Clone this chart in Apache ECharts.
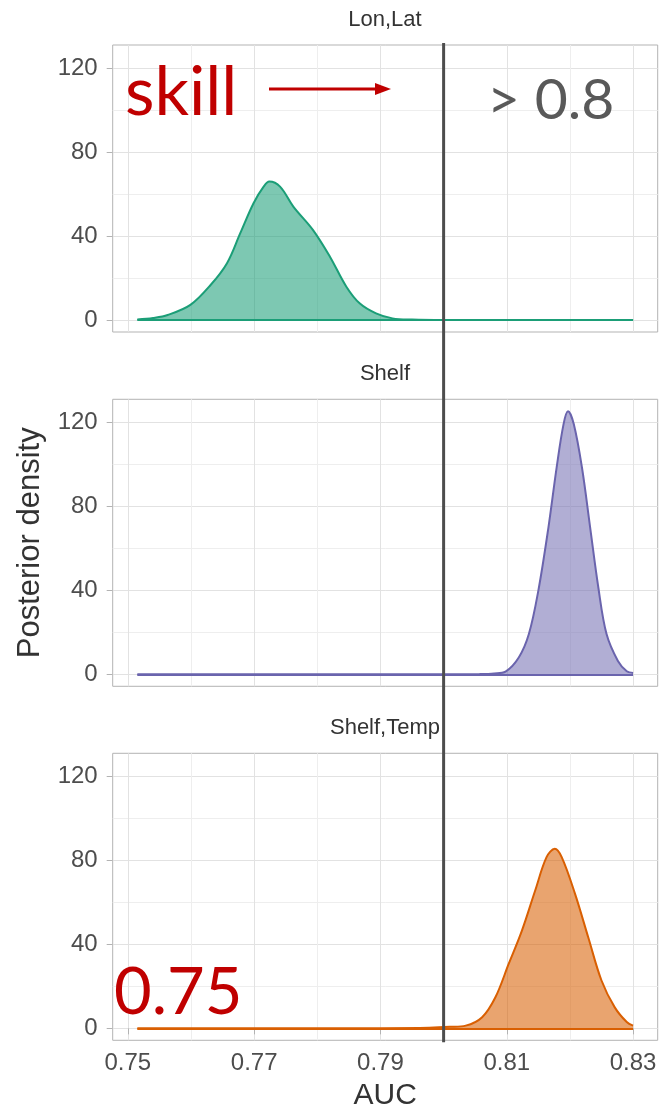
<!DOCTYPE html>
<html><head><meta charset="utf-8">
<script src="https://cdn.jsdelivr.net/npm/echarts@6/dist/echarts.min.js"></script>
<style>html,body{margin:0;padding:0;background:#fff}#c{width:664px;height:1114px}</style>
</head><body><div id="c"></div>
<script>
// ---- data ----
const panelTitles = ['Lon,Lat', 'Shelf', 'Shelf,Temp'];
const lonLatAuc = [0.7515,0.7540,0.7563,0.7599,0.7631,0.7657,0.7678,0.7699,0.7715,0.7724,0.7741,0.7762,0.7793,0.7820,0.7846,0.7867,0.7893,0.7919,0.7950,0.8000,0.8100,0.8200,0.8300];
const lonLatDensity = [0.3,1.0,2.4,7.2,16.7,27.1,41.4,55.7,63.6,66.0,63.6,54.1,43.0,30.2,15.9,8.0,3.2,0.8,0.2,0,0,0,0];
const shelfAuc = [0.7515,0.7700,0.7900,0.8000,0.8056,0.8080,0.8098,0.8119,0.8135,0.8150,0.8166,0.8179,0.8190,0.8197,0.8206,0.8219,0.8232,0.8245,0.8258,0.8276,0.8290,0.8300];
const shelfDensity = [0,0,0,0,0.1,0.4,1.3,8.0,19.2,39.9,70.1,98.7,119.4,125.4,119.4,98.7,70.1,41.4,19.2,6.4,1.5,0.6];
const shelfTempAuc = [0.7515,0.7700,0.7900,0.7977,0.8010,0.8035,0.8061,0.8082,0.8103,0.8124,0.8145,0.8163,0.8176,0.8187,0.8208,0.8229,0.8250,0.8271,0.8290,0.8300];
const shelfTempDensity = [0,0,0.1,0.3,0.7,1.3,5.3,14.8,30.7,46.6,65.7,81.6,85.6,81.6,64.2,43.4,22.8,10.0,3.0,1.3];
const xMajorTicks = [0.75, 0.77, 0.79, 0.81, 0.83];
const xMinorTicks = [0.76, 0.78, 0.80, 0.82];
const yMajorTicks = [0, 40, 80, 120];
const yMinorTicks = [20, 60, 100];
const thresholdAuc = 0.8;

const panelData = [[lonLatAuc, lonLatDensity], [shelfAuc, shelfDensity], [shelfTempAuc, shelfTempDensity]];
const lineColors = ['#1b9e77', '#6a64ad', '#d95f02'];
const fillColors = ['#1b9e77', '#7570b3', '#d95f02'];

const X_MIN = 0.7476, X_MAX = 0.8339, Y_MIN = -5.7, Y_MAX = 131.1;
const gridTops = [45, 399.3, 753.3];
const gridH = 287;
const FONT = '"Liberation Sans", Arial, sans-serif';

const grids = [], xAxes = [], yAxes = [], series = [], titles = [];
for (let i = 0; i < 3; i++) {
  grids.push({left: 112.7, right: 6.3, top: gridTops[i], height: gridH, show: true,
    borderColor: '#b3b3b3', borderWidth: 1, backgroundColor: '#fff'});
  const bottom = i === 2;
  xAxes.push({type: 'value', gridIndex: i, min: X_MIN, max: X_MAX,
    axisLine: {show: false},
    axisTick: {show: bottom, customValues: xMajorTicks, length: 6, lineStyle: {color: '#b3b3b3'}},
    axisLabel: {show: bottom, customValues: xMajorTicks, formatter: v => v.toFixed(2),
      fontSize: 24, color: '#4d4d4d', margin: 11, fontFamily: FONT},
    splitLine: {show: true, lineStyle: {color: '#e2e2e2', width: 1}},
    name: bottom ? 'AUC' : '', nameLocation: 'middle', nameGap: 40,
    nameTextStyle: {fontSize: 30, color: '#333', fontFamily: FONT}});
  xAxes.push({type: 'value', gridIndex: i, min: X_MIN, max: X_MAX,
    axisLine: {show: false},
    axisTick: {show: false, customValues: xMinorTicks},
    axisLabel: {show: false},
    splitLine: {show: true, lineStyle: {color: '#eeeeee', width: 1}}});
  yAxes.push({type: 'value', gridIndex: i, min: Y_MIN, max: Y_MAX,
    axisLine: {show: false},
    axisTick: {show: true, customValues: yMajorTicks, length: 6, lineStyle: {color: '#b3b3b3'}},
    axisLabel: {show: true, customValues: yMajorTicks, fontSize: 24, color: '#4d4d4d', margin: 15, fontFamily: FONT},
    splitLine: {show: true, lineStyle: {color: '#e2e2e2', width: 1}},
    name: i === 1 ? 'Posterior density' : '', nameLocation: 'middle', nameGap: 67,
    nameTextStyle: {fontSize: 31, color: '#333', fontFamily: FONT}});
  yAxes.push({type: 'value', gridIndex: i, min: Y_MIN, max: Y_MAX,
    axisLine: {show: false},
    axisTick: {show: false, customValues: yMinorTicks},
    axisLabel: {show: false},
    splitLine: {show: true, lineStyle: {color: '#eeeeee', width: 1}}});
  const [xs, ys] = panelData[i];
  series.push({type: 'line', xAxisIndex: 2 * i, yAxisIndex: 2 * i,
    data: xs.map((x, k) => [x, ys[k]]),
    smooth: 0.35, symbol: 'none', silent: true,
    lineStyle: {color: lineColors[i], width: 2},
    areaStyle: {color: fillColors[i], opacity: 0.57, origin: 0},
    markLine: {silent: true, symbol: 'none', label: {show: false},
      lineStyle: {color: lineColors[i], width: 2, type: 'solid'},
      data: [[{coord: [xs[0], 0]}, {coord: [xs[xs.length - 1], 0]}]]}});
  titles.push({text: panelTitles[i], left: 385, top: gridTops[i] - 36, textAlign: 'center', padding: 0,
    textStyle: {fontSize: 22, fontWeight: 'normal', color: '#333', fontFamily: FONT}});
}

const chart = echarts.init(document.getElementById('c'), null, {renderer: 'canvas'});
chart.setOption({animation: false, backgroundColor: '#fff', title: titles,
  grid: grids, xAxis: xAxes, yAxis: yAxes, series: series});

// threshold line through all panels, positioned by the axes' scales
const lx = chart.convertToPixel({xAxisIndex: 0}, thresholdAuc);
const ly0 = chart.convertToPixel({yAxisIndex: 0}, Y_MAX) - 2;
const ly1 = chart.convertToPixel({yAxisIndex: 4}, Y_MIN) + 2;
chart.setOption({graphic: [
  {type: 'line', z: 100, shape: {x1: lx, y1: ly0, x2: lx, y2: ly1}, style: {stroke: '#4d4d4d', lineWidth: 3}},
  {type: 'text', z: 100, style: {text: 'skill', x: 125, y: 93, fill: '#c00000', font: '68px Lato', verticalAlign: 'middle'}},
  {type: 'line', z: 100, shape: {x1: 269, y1: 89, x2: 378, y2: 89}, style: {stroke: '#c00000', lineWidth: 3}},
  {type: 'polygon', z: 100, shape: {points: [[391, 89], [375, 83], [375, 95]]}, style: {fill: '#c00000'}},
  {type: 'text', z: 100, style: {text: '> 0.8', x: 487, y: 101, fill: '#595959', font: '57px Lato', verticalAlign: 'middle'}},
  {type: 'text', z: 100, style: {text: '0.75', x: 114, y: 993, fill: '#c00000', font: '65px Lato', verticalAlign: 'middle'}}
]});
</script></body></html>
